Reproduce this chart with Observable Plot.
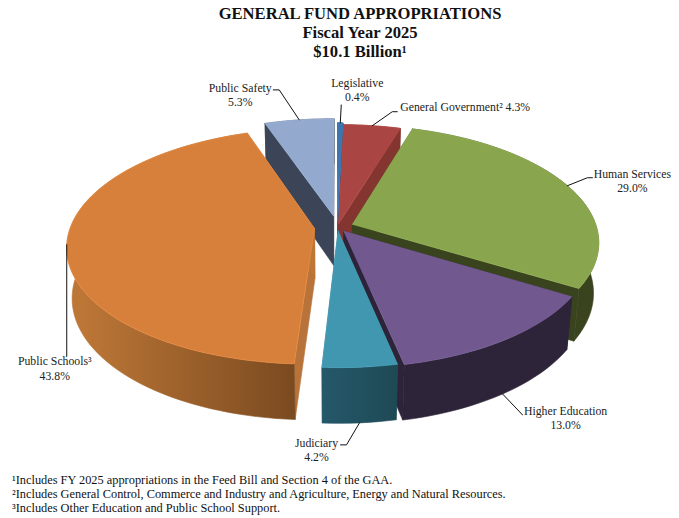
<!DOCTYPE html>
<html><head><meta charset="utf-8">
<script src="https://cdn.jsdelivr.net/npm/d3@7"></script>
<script src="https://cdn.jsdelivr.net/npm/@observablehq/plot@0.6"></script>
<style>
html,body{margin:0;padding:0;background:#fff;}
body{width:679px;font-family:"Liberation Serif",serif;color:#111;overflow:hidden;}
#title{height:66px;box-sizing:border-box;padding-top:5px;padding-left:41px;text-align:center;font-weight:bold;font-size:16.6px;line-height:18.8px;white-space:nowrap;}
#notes{padding:7px 0 0 12px;font-size:12.35px;line-height:14.2px;white-space:nowrap;}
svg{display:block;}
</style></head><body>
<div id="title"></div><div id="chart"></div><div id="notes"></div>
<script>
const titleLines = ["GENERAL FUND APPROPRIATIONS","Fiscal Year 2025","$10.1 Billion¹"];
const footnotes = ["¹Includes FY 2025 appropriations in the Feed Bill and Section 4 of the GAA.",
  "²Includes General Control, Commerce and Industry and Agriculture, Energy and Natural Resources.",
  "³Includes Other Education and Public School Support."];
// clockwise from the top of the pie
const categories = ["Legislative","General Government²","Human Services","Higher Education","Judiciary","Public Schools³","Public Safety"];
const shares = [0.4,4.3,29.0,13.0,4.2,43.8,5.3];
const topColors = ["#3d75ae","#a94543","#89a54e","#71588f","#4197af","#d7803b","#93a9ce"];
const wallFar = ["#2a4f78","#84352f","#39441e","#2e2439","#25586a","#bc7636","#3c4557"];
const wallNear = ["#2a4f78","#84352f","#39441e","#2e2439","#1e4a55","#7a4a20","#3c4557"];
const radialColor = ["#2a4f78","#84352f","#39441e","#2e2439","#1e4a55","#b8733a","#3c4557"];
const explode = [0.05,0.03,0.066,0.045,0.035,0.095,0.10];
const drawOrder = [6,0,1,2,3,5,4];

// 3D view of the pie
const view = {cx:337,cy:226.5,R:244,Rt:114.8,k:0.15,m:0.02,H:51};
const rad = d => d*Math.PI/180;
let cum = 0;
const slices = categories.map((name,i)=>{
  const a0 = cum/100*360; cum += shares[i]; const a1 = cum/100*360;
  return {i,name,a0,a1,mid:(a0+a1)/2,e:explode[i]};
});
function project(s,deg,z,r=1){
  const a = s.e*Math.sin(rad(s.mid))+r*Math.sin(rad(deg));
  const b = s.e*Math.cos(rad(s.mid))+r*Math.cos(rad(deg));
  const w = 1+view.k*b+view.m*z;
  return [view.cx+view.R*a/w, view.cy-view.Rt*b/w+view.H*z/w];
}
function arc(s,z){
  const n = Math.max(2,Math.ceil((s.a1-s.a0)/2)), out=[];
  for(let j=0;j<=n;j++) out.push(project(s,s.a0+(s.a1-s.a0)*j/n,z));
  return out;
}
const polys = [], gradients = [];
const add = (pts,fill,stroke)=>{polys.push({id:polys.length,pts,fill,stroke});};
for(const oi of drawOrder){
  const s = slices[oi];
  const apexT = project(s,s.a0,0,0), apexB = project(s,s.a0,1,0);
  add([apexT,project(s,s.a0,0),project(s,s.a0,1),apexB],radialColor[oi],radialColor[oi]);
  add([apexT,project(s,s.a1,0),project(s,s.a1,1),apexB],wallFar[oi],wallFar[oi]);
  const top = arc(s,0), bot = arc(s,1);
  let wf = wallFar[oi];
  if(wallNear[oi]!==wallFar[oi]){
    const xs = bot.map(p=>p[0]);
    wf = `url(#wall${oi})`;
    gradients.push({id:`wall${oi}`,x1:xs[0],x2:d3.min(xs),near:wallNear[oi],far:wallFar[oi],stop:oi===5?0.95:1});
  }
  add([...top,...bot.slice().reverse()],wf,wf);
  add([apexT,...top],topColors[oi],d3.color(topColors[oi]).brighter(0.35).formatHex());
}
const pts = polys.flatMap(p=>[...p.pts,p.pts[0]].map(q=>({x:q[0],y:q[1],id:p.id,fill:p.fill,stroke:p.stroke})));

// labels, offsets measured from the rim point of each slice's bisector
const labelLines = [["Legislative","0.4%"],["General Government² 4.3%"],["Human Services","29.0%"],["Higher Education","13.0%"],["Judiciary","4.2%"],["Public Schools³","43.8%"],["Public Safety","5.3%"]];
const leaderZ = [0,0,0,1,1,0,0];
const leaderBend = [[[1,-18],[1,-18]],[[20,-14],[25,-14]],[[20,-8],[25,-8]],[[20,21],[20,21]],[[-13,22],[-19,22]],[[0,112],[0,112]],[[-20,-30],[-26,-30]]];
const labelOffset = [[17,-40],[28,-18],[65,-12],[63,17],[-43,20],[-12,117],[-59,-32]];
const labelAnchor = ["middle","start","middle","middle","middle","middle","middle"];
const leaders=[],labels=[];
slices.forEach(s=>{
  const p = project(s,s.mid,leaderZ[s.i]);
  [p,[p[0]+leaderBend[s.i][0][0],p[1]+leaderBend[s.i][0][1]],[p[0]+leaderBend[s.i][1][0],p[1]+leaderBend[s.i][1][1]]]
    .forEach(q=>leaders.push({x:q[0],y:q[1],id:s.i}));
  labelLines[s.i].forEach((t,l)=>labels.push({x:p[0]+labelOffset[s.i][0],y:p[1]+labelOffset[s.i][1]+l*14.2,t,anchor:labelAnchor[s.i]}));
});

const gradientDefs = () => {
  const defs = d3.create("svg:defs");
  for(const g of gradients){
    const lg = defs.append("linearGradient").attr("id",g.id).attr("gradientUnits","userSpaceOnUse")
      .attr("x1",g.x1).attr("x2",g.x2).attr("y1",0).attr("y2",0);
    lg.append("stop").attr("offset",0).attr("stop-color",g.near);
    lg.append("stop").attr("offset",g.stop).attr("stop-color",g.far);
  }
  return defs.node();
};

const chart = Plot.plot({
  width:679,height:400,margin:0,
  x:{domain:[0,679],range:[0,679],axis:null},
  y:{domain:[66,466],range:[0,400],axis:null},
  color:{type:"identity"},
  marks:[
    gradientDefs,
    Plot.line(pts,{x:"x",y:"y",z:"id",fill:"fill",stroke:"stroke",strokeWidth:0.6,strokeLinejoin:"round"}),
    Plot.line(leaders,{x:"x",y:"y",z:"id",stroke:"#111",strokeWidth:1}),
    Plot.text(labels.filter(d=>d.anchor==="middle"),{x:"x",y:"y",text:"t",textAnchor:"middle",fontFamily:"Liberation Serif",fontSize:11.75,fill:"#222"}),
    Plot.text(labels.filter(d=>d.anchor==="start"),{x:"x",y:"y",text:"t",textAnchor:"start",fontFamily:"Liberation Serif",fontSize:11.75,fill:"#222"})
  ]
});
document.getElementById("chart").append(chart);
document.getElementById("title").innerHTML = titleLines.map(t=>`<div>${t}</div>`).join("");
document.getElementById("notes").innerHTML = footnotes.map(t=>`<div>${t}</div>`).join("");
</script></body></html>
